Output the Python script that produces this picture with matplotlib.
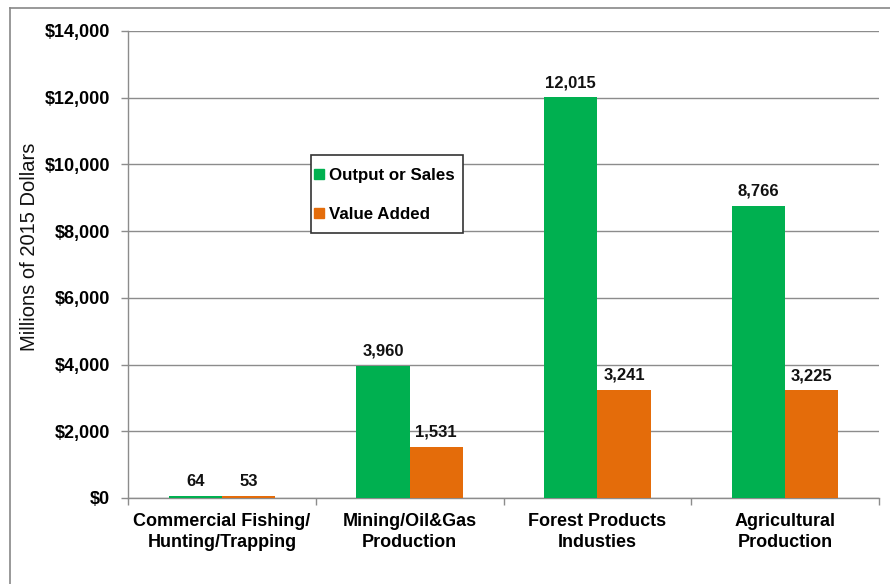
import matplotlib
matplotlib.use("Agg")
import matplotlib.pyplot as plt
from matplotlib.lines import Line2D
from matplotlib.patches import Rectangle
from matplotlib.ticker import FuncFormatter, FixedLocator
import numpy as np

plt.rcParams['font.family'] = ['Liberation Sans', 'DejaVu Sans']

categories = ["Commercial Fishing/\nHunting/Trapping",
              "Mining/Oil&Gas\nProduction",
              "Forest Products\nIndusties",
              "Agricultural\nProduction"]
output_sales = [64, 3960, 12015, 8766]
value_added = [53, 1531, 3241, 3225]
series_names = ["Output or Sales", "Value Added"]
y_ticks = [0, 2000, 4000, 6000, 8000, 10000, 12000, 14000]

green = "#00B050"
orange = "#E46C0A"
grid_gray = "#8C8C8C"

W, H = 890, 584
fig = plt.figure(figsize=(W / 100, H / 100), dpi=100)
ax_l, ax_r, ax_t, ax_b = 128, 879, 31, 498
ax = fig.add_axes([ax_l / W, 1 - ax_b / H, (ax_r - ax_l) / W, (ax_b - ax_t) / H])


def to_axes(px, py):
    """Pixel position on the canvas -> axes fraction."""
    return (px - ax_l) / (ax_r - ax_l), (ax_b - py) / (ax_b - ax_t)


x = np.arange(len(categories))
w = 0.283
b1 = ax.bar(x - w / 2, output_sales, w, color=green, zorder=3)
b2 = ax.bar(x + w / 2, value_added, w, color=orange, zorder=3)

for bars, vals in ((b1, output_sales), (b2, value_added)):
    for rect, v in zip(bars, vals):
        ax.annotate(f"{v:,}", (rect.get_x() + rect.get_width() / 2, v),
                    xytext=(0, 5), textcoords="offset points",
                    ha="center", va="bottom", fontsize=12, fontweight="bold",
                    color="#111111")

ax.set_xlim(-0.5, len(categories) - 0.5)
ax.set_ylim(0, 14000)
ax.yaxis.set_major_locator(FixedLocator(y_ticks))
ax.yaxis.set_major_formatter(FuncFormatter(lambda v, p: f"${int(v):,}"))
ax.grid(axis="y", color=grid_gray, linewidth=1.0, zorder=0)
ax.set_axisbelow(True)

# category labels centred, tick marks on category boundaries
ax.set_xticks(x)
ax.set_xticklabels(categories, fontsize=13, fontweight="bold", linespacing=1.25)
ax.tick_params(axis="x", which="major", length=0, pad=11)
ax.xaxis.set_minor_locator(FixedLocator(np.arange(-0.5, len(categories), 1.0)))
ax.tick_params(axis="x", which="minor", length=5, color=grid_gray, width=1.0)
ax.tick_params(axis="y", length=5, color=grid_gray, width=1.0, pad=8)
for lab in ax.get_yticklabels():
    lab.set_fontsize(13)
    lab.set_fontweight("bold")

for s in ("top", "right"):
    ax.spines[s].set_visible(False)
for s in ("left", "bottom"):
    ax.spines[s].set_color(grid_gray)
    ax.spines[s].set_linewidth(1.0)

ax.set_ylabel("Millions of 2015 Dollars", fontsize=14.5, color="#111111")
ax.yaxis.set_label_coords(-0.1185, 0.537)

# legend box drawn separately so its padding can be set independently
bx0, by0 = to_axes(311, 233)
bx1, by1 = to_axes(463, 155)
ax.add_patch(Rectangle((bx0, by0), bx1 - bx0, by1 - by0, transform=ax.transAxes,
                       facecolor="white", edgecolor="#333333", linewidth=1.2,
                       zorder=4, clip_on=False))

handles = [Line2D([], [], marker="s", linestyle="none", markersize=7,
                  markerfacecolor=c, markeredgecolor=c) for c in (green, orange)]
leg = ax.legend(handles, series_names, loc="upper left",
                bbox_to_anchor=to_axes(314, 168),
                borderaxespad=0, borderpad=0, frameon=False,
                handlelength=0.6, handletextpad=0.3, labelspacing=1.4,
                prop={"size": 12.2, "weight": "bold"})
leg.set_zorder(5)

# outer frame lines around the chart area
fig.add_artist(Line2D([10 / W, 10 / W], [0, 1 - 8 / H],
                      transform=fig.transFigure, color="#888888", linewidth=1.2))
fig.add_artist(Line2D([10 / W, 1], [1 - 8 / H, 1 - 8 / H],
                      transform=fig.transFigure, color="#888888", linewidth=1.2))

fig.savefig("out.png", dpi=100)
